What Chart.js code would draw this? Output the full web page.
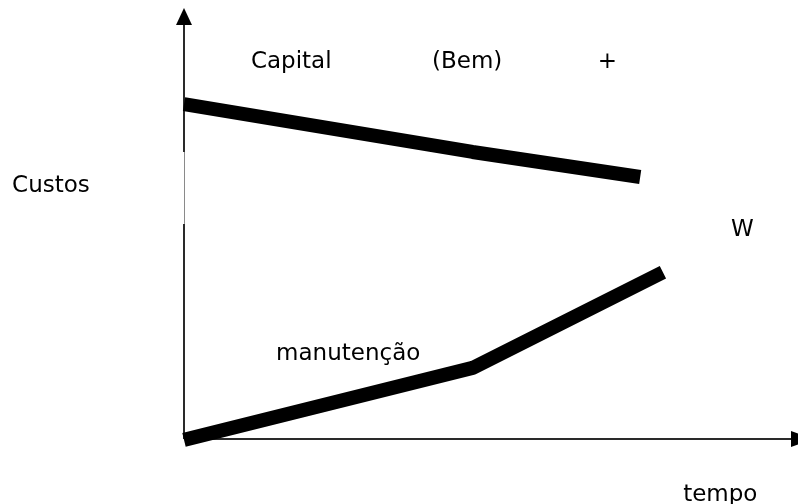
<!DOCTYPE html>
<html>
<head>
<meta charset="utf-8">
<script src="https://cdn.jsdelivr.net/npm/chart.js@4"></script>
<style>
  body { margin: 0; background: #ffffff; }
  #wrap { width: 798px; height: 504px; position: relative; }
</style>
</head>
<body>
<div id="wrap"><canvas id="chart" width="798" height="504"></canvas></div>
<script>
"use strict";

// tempo (x) and custos (y) on a 0..100 scale
const tempo = [0, 47, 74.3];
const custoCapital = [77.7, 66.6, 60.8];
const tempoManut = [0, 47, 78];
const custoManut = [-0.2, 16.5, 38.7];

// text labels and where they sit, in the same units
const labelTexts = ["Capital", "(Bem)", "+", "Custos", "W", "manutenção", "tempo"];
const labelX = [10.9, 40.4, 67.4, -28.0, 89.1, 15.0, 81.3];
const labelY = [87.4, 87.4, 87.4, 58.8, 48.6, 19.8, -12.9];

// stretch of the y axis drawn thin
const axisGap = [49.9, 66.6];

const toPoints = (xs, ys) => xs.map((x, i) => ({ x: x, y: ys[i] }));

const sketchPlugin = {
  id: "sketch",
  beforeDatasetsDraw(chart) {
    const ctx = chart.ctx;
    const xs = chart.scales.x;
    const ys = chart.scales.y;
    const x0 = xs.getPixelForValue(0);
    const y0 = ys.getPixelForValue(0);
    const top = ys.getPixelForValue(100);
    const gapA = ys.getPixelForValue(axisGap[1]);
    const gapB = ys.getPixelForValue(axisGap[0]);

    ctx.save();
    ctx.strokeStyle = "#2a2a2a";
    ctx.lineWidth = 2;
    ctx.beginPath();
    ctx.moveTo(x0, top + 14);
    ctx.lineTo(x0, gapA);
    ctx.moveTo(x0, gapB);
    ctx.lineTo(x0, y0);
    ctx.moveTo(x0, y0);
    ctx.lineTo(chart.width - 4, y0);
    ctx.stroke();

    ctx.strokeStyle = "#8a8a8a";
    ctx.lineWidth = 1;
    ctx.beginPath();
    ctx.moveTo(x0 + 0.5, gapA);
    ctx.lineTo(x0 + 0.5, gapB);
    ctx.stroke();

    // arrow heads
    ctx.fillStyle = "#000000";
    ctx.beginPath();
    ctx.moveTo(x0, top);
    ctx.lineTo(x0 - 8, top + 17);
    ctx.lineTo(x0 + 8, top + 17);
    ctx.closePath();
    ctx.fill();

    ctx.beginPath();
    ctx.moveTo(chart.width + 16, y0);
    ctx.lineTo(chart.width - 7, y0 - 8);
    ctx.lineTo(chart.width - 7, y0 + 8);
    ctx.closePath();
    ctx.fill();
    ctx.restore();
  },
  afterDatasetsDraw(chart) {
    const ctx = chart.ctx;
    const xs = chart.scales.x;
    const ys = chart.scales.y;
    ctx.save();
    ctx.fillStyle = "#000000";
    ctx.font = "23px 'DejaVu Sans', sans-serif";
    ctx.textAlign = "left";
    ctx.textBaseline = "middle";
    labelTexts.forEach((text, i) => {
      ctx.fillText(text, xs.getPixelForValue(labelX[i]), ys.getPixelForValue(labelY[i]));
    });
    ctx.restore();
  },
};

const lineStyle = {
  showLine: true,
  borderColor: "#000000",
  borderWidth: 14,
  borderCapStyle: "butt",
  borderJoinStyle: "bevel",
  pointRadius: 0,
  tension: 0,
  clip: false,
};

new Chart(document.getElementById("chart").getContext("2d"), {
  type: "scatter",
  data: {
    datasets: [
      { label: "Capital (Bem)", data: toPoints(tempo, custoCapital), ...lineStyle },
      { label: "manutenção", data: toPoints(tempoManut, custoManut), ...lineStyle },
    ],
  },
  options: {
    responsive: false,
    animation: false,
    layout: {
      padding: { left: 184, right: 0, top: 8, bottom: 65 },
    },
    scales: {
      x: { type: "linear", min: 0, max: 100, display: false },
      y: { type: "linear", min: 0, max: 100, display: false },
    },
    plugins: {
      legend: { display: false },
      tooltip: { enabled: false },
    },
  },
  plugins: [sketchPlugin],
});
</script>
</body>
</html>
